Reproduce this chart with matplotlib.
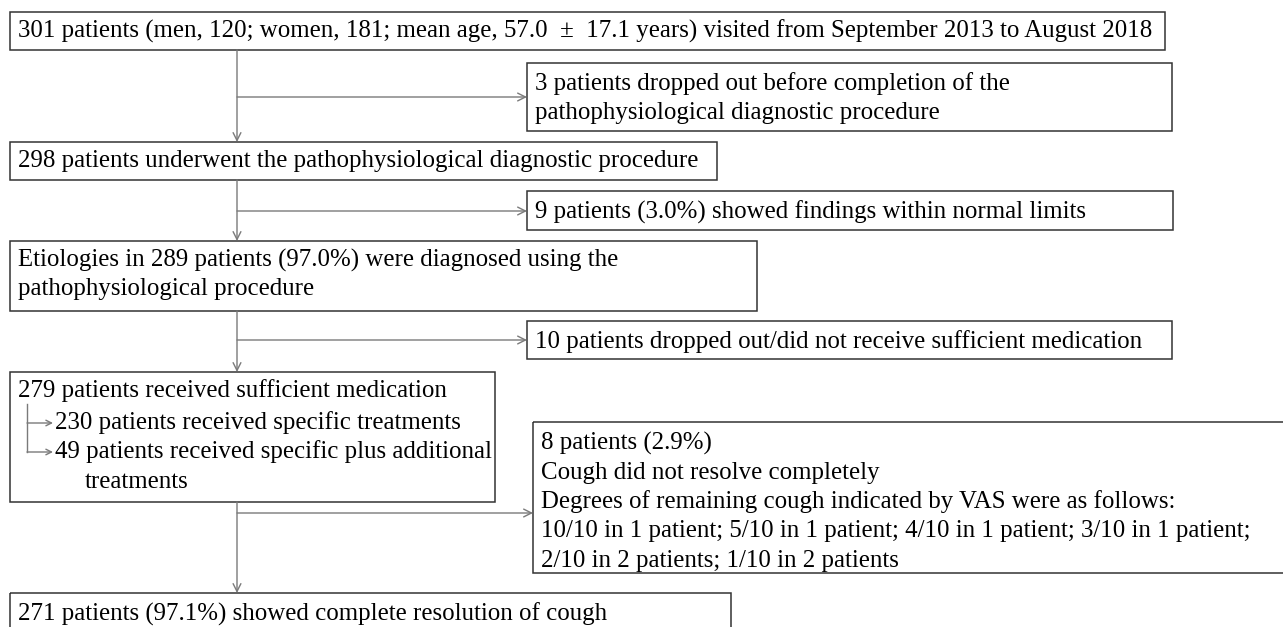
import matplotlib.pyplot as plt
from matplotlib.patches import Rectangle

W, H = 1283, 627

# flow box texts (main column and side boxes)
main_texts = [
    ["301 patients (men, 120; women, 181; mean age, 57.0\u2002\u00b1\u200217.1 years) visited from September 2013 to August 2018"],
    ["298 patients underwent the pathophysiological diagnostic procedure"],
    ["Etiologies in 289 patients (97.0%) were diagnosed using the",
     "pathophysiological procedure"],
    ["279 patients received sufficient medication"],
    ["271 patients (97.1%) showed complete resolution of cough"],
]
sub_texts = ["230 patients received specific treatments",
             "49 patients received specific plus additional",
             "treatments"]
side_texts = [
    ["3 patients dropped out before completion of the",
     "pathophysiological diagnostic procedure"],
    ["9 patients (3.0%) showed findings within normal limits"],
    ["10 patients dropped out/did not receive sufficient medication"],
    ["8 patients (2.9%)",
     "Cough did not resolve completely",
     "Degrees of remaining cough indicated by VAS were as follows:",
     "10/10 in 1 patient; 5/10 in 1 patient; 4/10 in 1 patient; 3/10 in 1 patient;",
     "2/10 in 2 patients; 1/10 in 2 patients"],
]

# layout in pixels: (x0, y0, x1, y1)
main_boxes = [(10, 12, 1165, 50), (10, 142, 717, 180), (10, 241, 757, 311),
              (10, 372, 495, 502), (10, 593, 731, 640)]
side_boxes = [(527, 63, 1172, 131), (527, 191, 1173, 230),
              (527, 321, 1172, 359), (533, 422, 1290, 573)]
branch_y = [97, 211, 340, 513]
stem_x = 237
line_h = 29.5
FS = 17.9
FONT = "Liberation Serif"
ARROW = dict(arrowstyle="->", color="#7a7a7a", lw=1.0, mutation_scale=14,
             shrinkA=0, shrinkB=0)

fig = plt.figure(figsize=(W / 100, H / 100), dpi=100)
ax = fig.add_axes([0, 0, 1, 1])
ax.set_xlim(0, W)
ax.set_ylim(H, 0)
ax.axis("off")


def draw_box(box, lines, first_y=None):
    x0, y0, x1, y1 = box
    ax.add_patch(Rectangle((x0, y0), x1 - x0, y1 - y0, fill=False,
                           edgecolor="#333333", lw=1.1))
    ty = first_y if first_y is not None else y0 + 19
    for i, s in enumerate(lines):
        ax.text(x0 + 8, ty + i * line_h, s, fontsize=FS, family=FONT,
                va="center", ha="left", color="black")


for i, (box, lines) in enumerate(zip(main_boxes, main_texts)):
    draw_box(box, lines, first_y=box[1] + 21 if i == 4 else None)

for box, lines in zip(side_boxes, side_texts):
    draw_box(box, lines, first_y=box[1] + 21)

# sub-items inside the 279 box
ax.text(55, 423, sub_texts[0], fontsize=FS, family=FONT, va="center")
ax.text(55, 452, sub_texts[1], fontsize=FS, family=FONT, va="center")
ax.text(85, 482, sub_texts[2], fontsize=FS, family=FONT, va="center")
ax.plot([27, 27], [404, 452], color="#7a7a7a", lw=1.0)
for yy in (423, 452):
    ax.annotate("", xy=(53, yy), xytext=(27, yy),
                arrowprops=dict(ARROW, mutation_scale=10))

# main stem arrows and side branches
for k in range(4):
    top = main_boxes[k][3]
    bottom = main_boxes[k + 1][1]
    ax.annotate("", xy=(stem_x, bottom), xytext=(stem_x, top), arrowprops=ARROW)
    ax.annotate("", xy=(side_boxes[k][0], branch_y[k]),
                xytext=(stem_x, branch_y[k]), arrowprops=ARROW)

fig.savefig("out.png", dpi=100)
